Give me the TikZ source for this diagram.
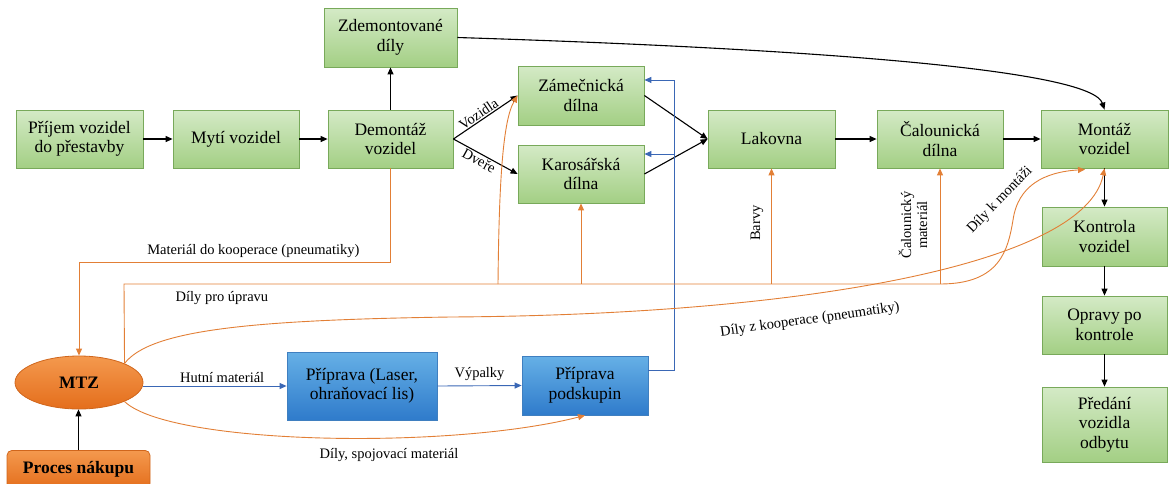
\documentclass[tikz,border=0pt]{standalone}
\usepackage{fontspec}
\setmainfont{LiberationSerif}[Extension=.ttf, UprightFont=*-Regular, BoldFont=*-Bold, ItalicFont=*-Italic, BoldItalicFont=*-BoldItalic]
\usetikzlibrary{arrows.meta,shapes.geometric,calc}
\definecolor{gtop}{HTML}{D4EAC6}
\definecolor{gbot}{HTML}{A3CF84}
\definecolor{gedge}{HTML}{78A95A}
\definecolor{btop}{HTML}{66B0E6}
\definecolor{bbot}{HTML}{2F7BCB}
\definecolor{bedge}{HTML}{3F7FC0}
\definecolor{otop}{HTML}{F4994E}
\definecolor{obot}{HTML}{E46E1C}
\definecolor{oedge}{HTML}{D0661C}
\definecolor{oline}{HTML}{E27F36}
\definecolor{bline}{HTML}{3A67B5}
\newcommand\bxfont{\fontsize{17.5}{19.5}\selectfont}
\newcommand\lbfont{\fontsize{14.5}{16}\selectfont}
\begin{document}
\begin{tikzpicture}[x=1pt,y=-1pt,
  gbox/.style={draw=gedge, line width=0.8pt, top color=gtop, bottom color=gbot,
    align=center, font=\bxfont, inner sep=2pt},
  bbox/.style={draw=bedge, line width=0.8pt, top color=btop, bottom color=bbot,
    align=center, font=\bxfont, inner sep=2pt},
  obox/.style={draw=oedge, line width=0.8pt, top color=otop, bottom color=obot,
    align=center, font=\bxfont\bfseries, inner sep=2pt},
  lbl/.style={font=\lbfont, inner sep=1pt, align=center},
  tip/.style={-{Triangle[length=7pt,width=6pt]}},
  blk/.style={tip, draw=black, line width=1.1pt},
  oarr/.style={tip, draw=oline, line width=0.9pt},
  barr/.style={tip, draw=bline, line width=0.9pt}]
\useasboundingbox (0,0) rectangle (1174,483);

% main production line
\node[gbox, minimum width=127pt, minimum height=58pt] (prijem) at (79.5,139) {Příjem vozidel\\do přestavby};
\node[gbox, minimum width=126pt, minimum height=58pt] (myti) at (236,139) {Mytí vozidel};
\node[gbox, minimum width=125pt, minimum height=58pt] (demontaz) at (390.5,139) {Demontáž\\vozidel};
\node[gbox, minimum width=133pt, minimum height=59pt] (zdem) at (390.5,37.5) {Zdemontované\\díly};
\node[gbox, minimum width=126pt, minimum height=59pt] (zamec) at (581,95.5) {Zámečnická\\dílna};
\node[gbox, minimum width=126pt, minimum height=58pt] (karos) at (581,174) {Karosářská\\dílna};
\node[gbox, minimum width=127pt, minimum height=58pt] (lakovna) at (771.5,139) {Lakovna};
\node[gbox, minimum width=126pt, minimum height=58pt] (calou) at (940,139) {Čalounická\\dílna};
\node[gbox, minimum width=127pt, minimum height=58pt] (montaz) at (1104.5,139) {Montáž\\vozidel};
\node[gbox, minimum width=125pt, minimum height=59pt] (kontrola) at (1104.5,236.5) {Kontrola\\vozidel};
\node[gbox, minimum width=125pt, minimum height=58pt] (opravy) at (1104.5,325) {Opravy po\\kontrole};
\node[gbox, minimum width=125pt, minimum height=75pt] (predani) at (1104.5,424.5) {Předání\\vozidla\\odbytu};

% material supply
\node[ellipse, draw=oedge, line width=0.8pt, top color=otop, bottom color=obot,
  minimum width=128pt, minimum height=53pt, inner sep=0pt, font=\bxfont\bfseries] (mtz) at (79,382.5) {MTZ};
\node[obox, rounded corners=5pt, minimum width=143pt, minimum height=38pt, anchor=north] (nakup) at (78.5,450) {Proces nákupu};
\node[bbox, minimum width=150pt, minimum height=68pt] (laser) at (362,386) {Příprava (Laser,\\ohraňovací lis)};
\node[bbox, minimum width=126pt, minimum height=59pt] (podsk) at (585,385.5) {Příprava\\podskupin};

% black flow
\draw[blk] (prijem) -- (myti);
\draw[blk] (myti) -- (demontaz);
\draw[blk] (demontaz.north) -- (demontaz.north |- zdem.south);
\draw[blk] (demontaz.east) -- (zamec.west) node[pos=0.45, sloped, above, lbl] (lvoz) {Vozidla};
\draw[blk] (demontaz.east) -- (karos.west) node[pos=0.45, sloped, below, lbl] (ldv) {Dveře};
\draw[blk] (zamec.east) -- (lakovna.west);
\draw[blk] (karos.east) -- (lakovna.west);
\draw[blk] (lakovna) -- (calou);
\draw[blk] (calou) -- (montaz);
\draw[blk] (zdem.east) .. controls (850,50) and (1092,72) .. (montaz.north);
\draw[blk] (montaz) -- (kontrola);
\draw[blk] (kontrola) -- (opravy);
\draw[blk] (opravy) -- (predani);
\draw[blk] (nakup.north) -- (nakup.north |- mtz.south);

% blue flow
\draw[barr] (mtz.east |- laser.west) -- (laser.west) node[pos=0.55, above=2pt, lbl] (lhut) {Hutní materiál};
\draw[barr] (laser.east) -- (podsk.west) node[midway, above=4pt, lbl] (lvyp) {Výpalky};
\coordinate (bs) at ($(podsk.north east)!0.25!(podsk.south east)$);
\coordinate (bz) at ($(zamec.north east)!0.24!(zamec.south east)$);
\coordinate (bk) at ($(karos.north east)!0.16!(karos.south east)$);
\coordinate (bx) at (674,0);
\draw[barr] (bs) -- (bs -| bx) -- (bz -| bx) -- (bz);
\draw[barr] (bk -| bx) -- (bk);

% orange flow
\coordinate (kp) at (79,262);
\draw[oarr] (demontaz.south) |- (kp) node[pos=0.72, above=3pt, lbl] (lkoop) {Materiál do kooperace (pneumatiky)} -- (mtz.north);
\coordinate (pu1) at (124,284);
\coordinate (pu2) at (940,284);
\coordinate (pz) at (498,284);
\coordinate (mk) at (1085,169.5);
\draw[oarr] (mtz.north east) -- (pu1) -- (pu2) node[pos=0.12, below=6pt, lbl] (lupr) {Díly pro úpravu}
  .. controls (1000,284) and (1008,250) .. (1013,220) .. controls (1018,185) and (1045,172) .. (mk);
\draw[oarr] (pz) .. controls (499,180) and (503,120) .. (zamec.west);
\draw[oarr] (karos.south |- pu1) -- (karos.south);
\draw[oarr] (lakovna.south |- pu1) -- (lakovna.south);
\draw[oarr] (calou.south |- pu1) -- (calou.south);
\draw[oarr] (mtz.north east) .. controls (150,330) and (250,320) .. (450,317)
  .. controls (800,315) and (1085,265) .. (montaz.south);
\draw[oarr] (mtz.south east) .. controls (170,445) and (450,450) .. (podsk.south);

% free labels
\node[lbl, rotate=90] (lbarvy) at (757,223) {Barvy};
\node[lbl, rotate=90] (lcal) at (913,225) {Čalounický\\materiál};
\node[lbl, rotate=46] (lmont) at (1000,200) {Díly k montáži};
\node[lbl, rotate=8] (lzkoop) at (810,320) {Díly z kooperace (pneumatiky)};
\node[lbl] (lspoj) at (389,455) {Díly, spojovací materiál};
\end{tikzpicture}
\end{document}
